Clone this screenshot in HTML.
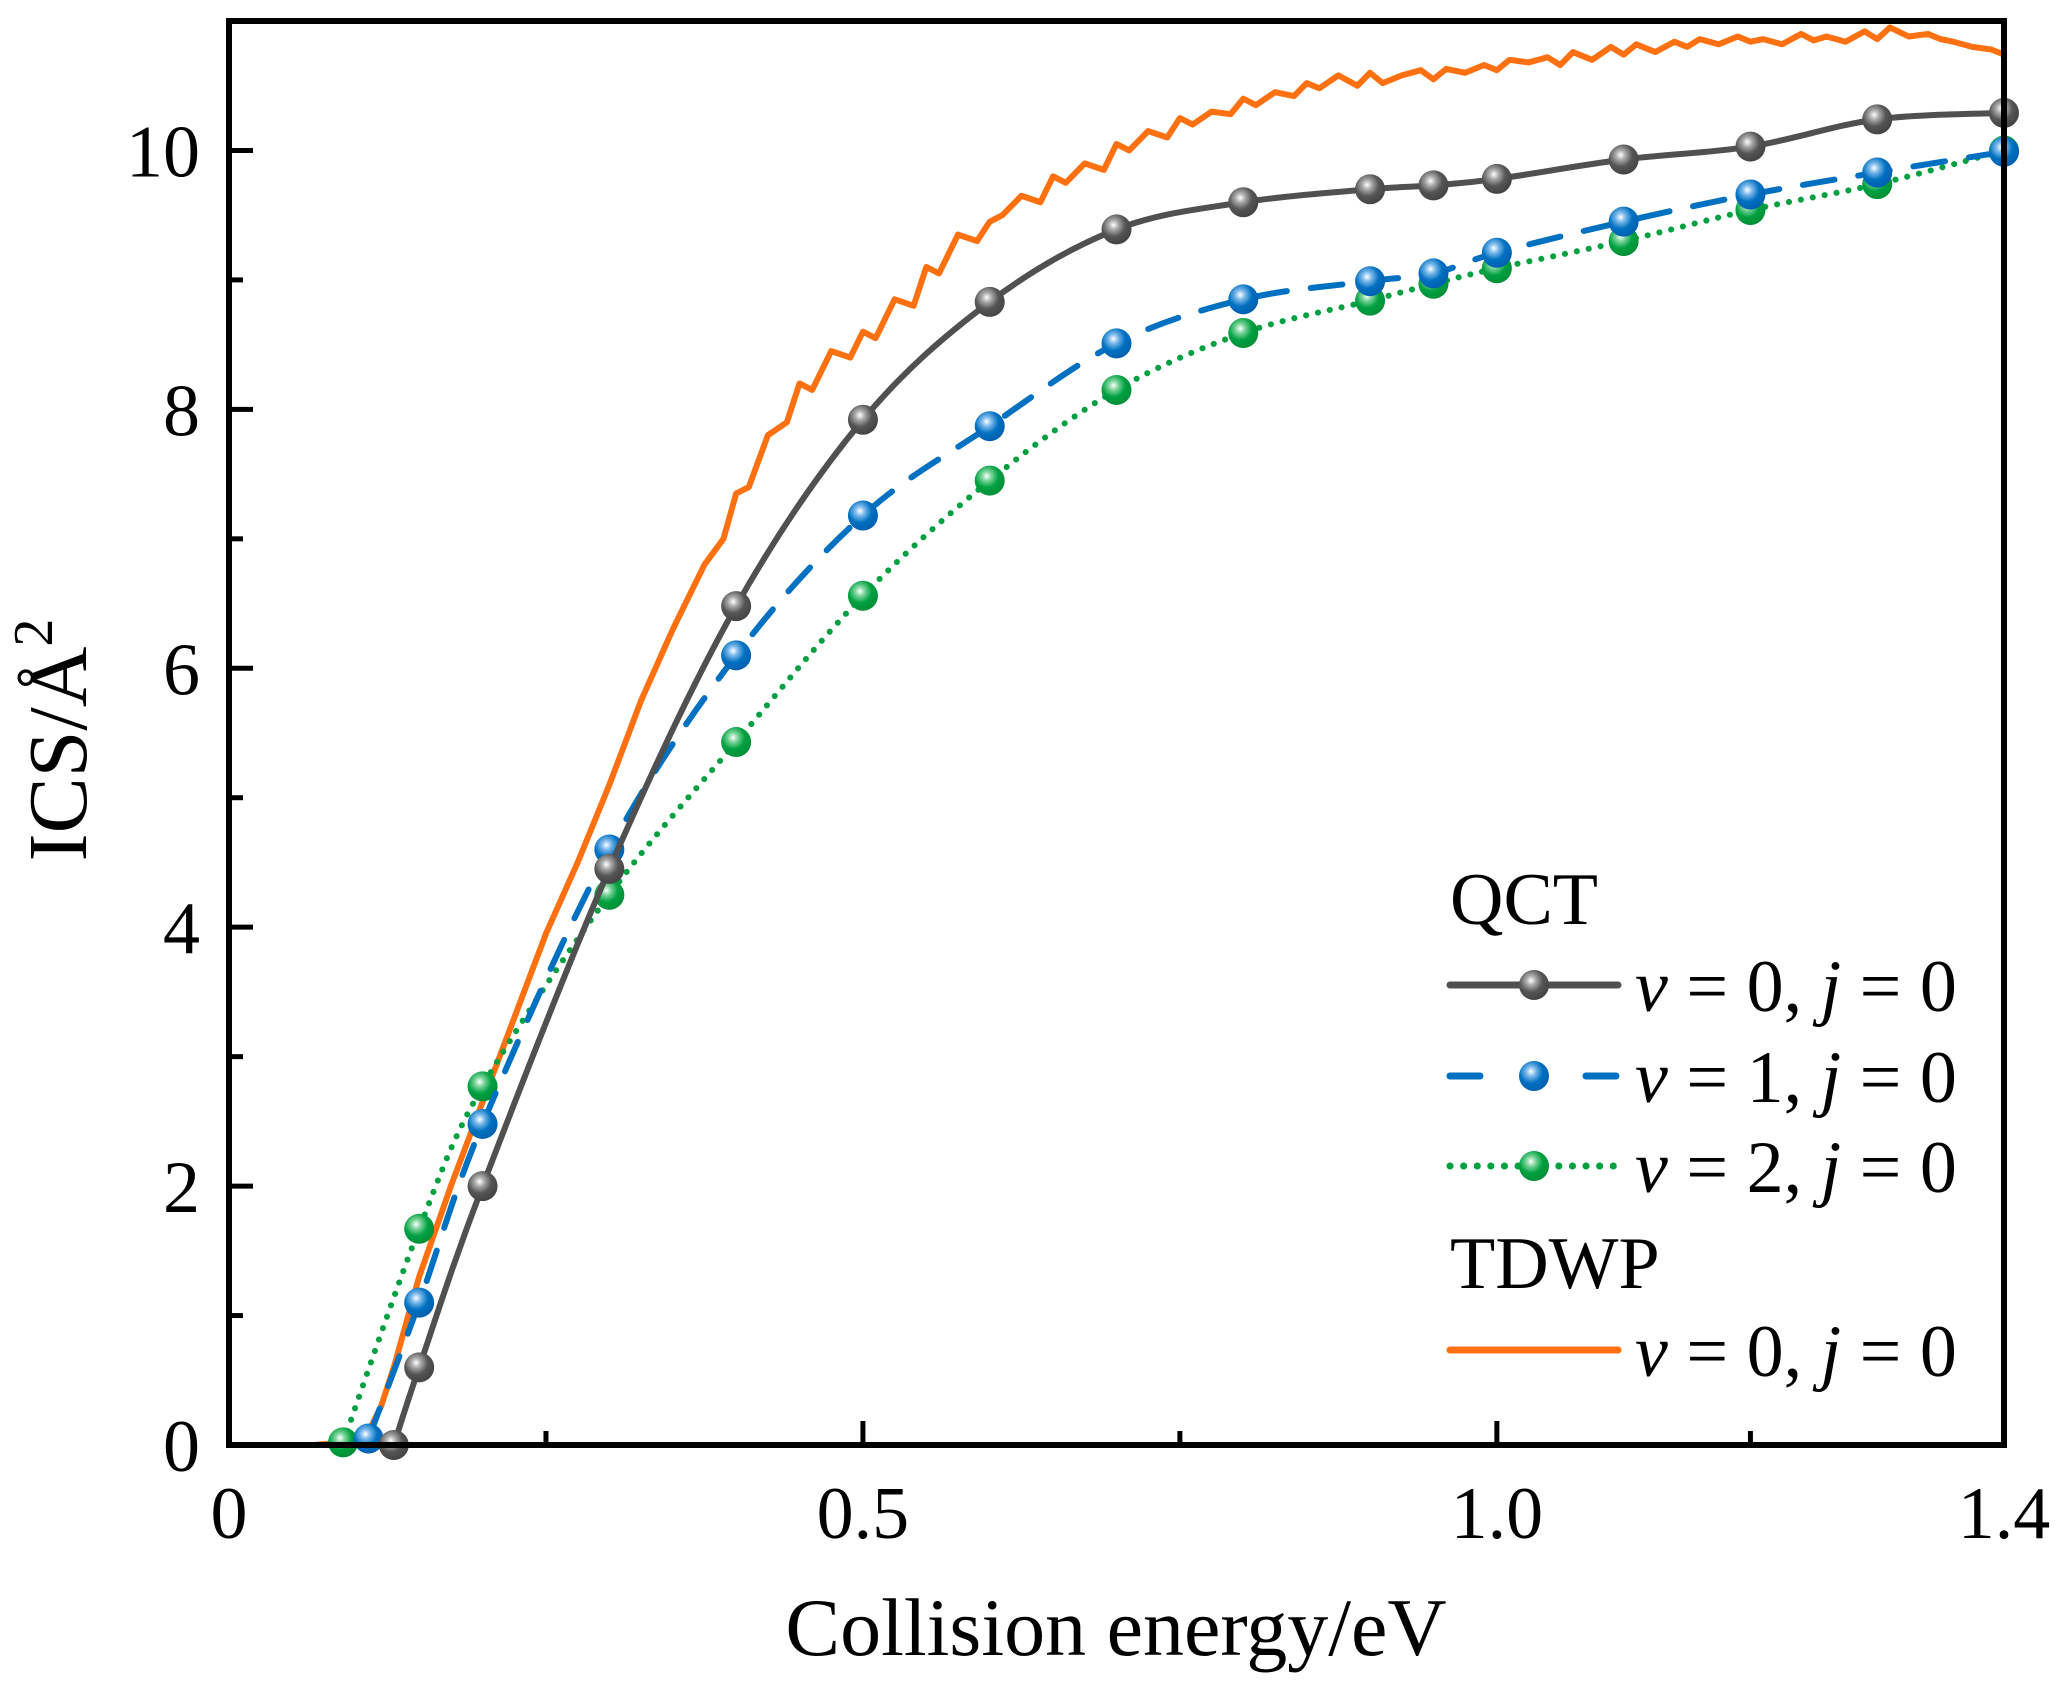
<!DOCTYPE html>
<html><head><meta charset="utf-8"><style>
html,body{margin:0;padding:0;background:#fff;}
svg{display:block;font-family:"Liberation Serif",serif;}
</style></head><body>
<svg id="chart" width="2067" height="1689" viewBox="0 0 2067 1689" xmlns="http://www.w3.org/2000/svg">
<defs>
<radialGradient id="gGray" cx="0.4" cy="0.35" r="0.65"><stop offset="0" stop-color="#fff"/><stop offset="0.25" stop-color="#aaa"/><stop offset="0.6" stop-color="#555"/><stop offset="1" stop-color="#444"/></radialGradient>
<radialGradient id="gBlue" cx="0.4" cy="0.35" r="0.65"><stop offset="0" stop-color="#fff"/><stop offset="0.25" stop-color="#7ab8ea"/><stop offset="0.6" stop-color="#0070c0"/><stop offset="1" stop-color="#0060b0"/></radialGradient>
<radialGradient id="gGreen" cx="0.4" cy="0.35" r="0.65"><stop offset="0" stop-color="#fff"/><stop offset="0.25" stop-color="#7ad49a"/><stop offset="0.6" stop-color="#00a040"/><stop offset="1" stop-color="#009038"/></radialGradient>
</defs>
<g id="plot"></g>
<g id="axes"></g>
</svg>
<script>
const xTickVals = [0, 0.5, 1.0, 1.4];
const xTickLabels = ["0", "0.5", "1.0", "1.4"];
const xMinorVals = [0.25, 0.75, 1.2];
const yTickVals = [0, 2, 4, 6, 8, 10];
const yTickLabels = ["0", "2", "4", "6", "8", "10"];
const yMinorVals = [1, 3, 5, 7, 9];

const grayX = [0.13, 0.15, 0.2, 0.3, 0.4, 0.5, 0.6, 0.7, 0.8, 0.9, 0.95, 1.0, 1.1, 1.2, 1.3, 1.4];
const grayY = [0, 0.6, 2.0, 4.45, 6.48, 7.92, 8.83, 9.39, 9.6, 9.7, 9.73, 9.78, 9.93, 10.03, 10.24, 10.29];
const blueX = [0.11, 0.15, 0.2, 0.3, 0.4, 0.5, 0.6, 0.7, 0.8, 0.9, 0.95, 1.0, 1.1, 1.2, 1.3, 1.4];
const blueY = [0.05, 1.1, 2.48, 4.6, 6.1, 7.18, 7.87, 8.51, 8.85, 8.99, 9.05, 9.21, 9.45, 9.66, 9.83, 9.99];
const greenX = [0.09, 0.15, 0.2, 0.3, 0.4, 0.5, 0.6, 0.7, 0.8, 0.9, 0.95, 1.0, 1.1, 1.2, 1.3, 1.4];
const greenY = [0.02, 1.67, 2.77, 4.25, 5.43, 6.56, 7.45, 8.15, 8.59, 8.84, 8.97, 9.09, 9.3, 9.54, 9.74, 10.0];
const tdwpX = [0.067,0.09,0.11,0.12,0.13,0.15,0.175,0.2,0.225,0.25,0.275,0.3,0.325,0.35,0.375,0.39,0.4,0.41,0.425,0.44,0.45,0.46,0.475,0.49,0.5,0.51,0.525,0.54,0.55,0.56,0.575,0.59,0.6,0.61,0.625,0.64,0.65,0.66,0.675,0.69,0.7,0.71,0.725,0.74,0.75,0.76,0.775,0.79,0.8,0.81,0.825,0.84,0.85,0.86,0.875,0.89,0.9,0.91,0.925,0.94,0.95,0.96,0.975,0.99,1.0,1.01,1.025,1.04,1.05,1.06,1.075,1.09,1.1,1.11,1.125,1.14,1.15,1.16,1.175,1.19,1.2,1.21,1.225,1.24,1.25,1.26,1.275,1.29,1.3,1.31,1.325,1.34,1.35,1.36,1.375,1.39,1.4];
const tdwpY = [0,0.02,0.1,0.3,0.6,1.3,2.0,2.65,3.3,3.95,4.5,5.1,5.75,6.3,6.8,7.0,7.35,7.4,7.8,7.9,8.2,8.15,8.45,8.4,8.6,8.55,8.85,8.8,9.1,9.05,9.35,9.3,9.45,9.5,9.65,9.6,9.8,9.75,9.9,9.85,10.05,10.0,10.15,10.1,10.25,10.2,10.3,10.28,10.4,10.35,10.45,10.42,10.52,10.48,10.58,10.5,10.6,10.52,10.58,10.62,10.55,10.63,10.6,10.66,10.62,10.7,10.68,10.72,10.66,10.76,10.7,10.8,10.74,10.82,10.76,10.84,10.8,10.86,10.82,10.88,10.84,10.86,10.82,10.9,10.85,10.88,10.84,10.92,10.86,10.95,10.88,10.9,10.86,10.84,10.8,10.78,10.74];

const X0 = 229, X1 = 2004, Y0 = 1445, Y1 = 21, XMAX = 1.4, YMAX = 11.0;
const sx = v => X0 + v / XMAX * (X1 - X0);
const sy = v => Y0 - v / YMAX * (Y0 - Y1);
const NS = "http://www.w3.org/2000/svg";
function mk(tag, attrs, parent) {
  const e = document.createElementNS(NS, tag);
  for (const k in attrs) e.setAttribute(k, attrs[k]);
  parent.appendChild(e);
  return e;
}
function spline(xs, ys) {
  const p = xs.map((x, i) => [sx(x), sy(ys[i])]);
  let d = "M" + p[0][0] + "," + p[0][1];
  for (let i = 0; i < p.length - 1; i++) {
    const a = p[i - 1] || p[i], b = p[i], c = p[i + 1], e = p[i + 2] || c;
    const c1 = [b[0] + (c[0] - a[0]) / 6, b[1] + (c[1] - a[1]) / 6];
    const c2 = [c[0] - (e[0] - b[0]) / 6, c[1] - (e[1] - b[1]) / 6];
    d += " C" + c1[0] + "," + c1[1] + " " + c2[0] + "," + c2[1] + " " + c[0] + "," + c[1];
  }
  return d;
}
const plot = document.getElementById("plot");
const axes = document.getElementById("axes");

const tp = mk("polyline", {points: tdwpX.map((x, i) => sx(x) + "," + sy(tdwpY[i])).join(" "), fill: "none", stroke: "#ff7010", "stroke-width": 6, "stroke-linejoin": "round"}, plot);



const series = [
  {name: "v2", xs: greenX, ys: greenY, color: "#00a040", dash: "0.1 12", grad: "url(#gGreen)", w: 6},
  {name: "v1", xs: blueX, ys: blueY, color: "#0070c0", dash: "32 24", grad: "url(#gBlue)", w: 6},
  {name: "v0", xs: grayX, ys: grayY, color: "#505050", dash: "none", grad: "url(#gGray)", w: 6}
];
series.forEach(s => {
  const ln = mk("path", {d: spline(s.xs, s.ys), fill: "none", stroke: s.color, "stroke-width": s.w, "stroke-dasharray": s.dash, "stroke-linecap": "round"}, plot);
  
  
  s.xs.forEach((x, i) => {
    const c = mk("circle", {cx: sx(x), cy: sy(s.ys[i]), r: 15, fill: s.grad}, plot);
    
    
  });
});

const fr = mk("rect", {x: X0, y: Y1, width: X1 - X0, height: Y0 - Y1, fill: "none", stroke: "#000", "stroke-width": 6}, axes);



xTickVals.forEach((v, i) => {
  const t = mk("line", {x1: sx(v), x2: sx(v), y1: Y0, y2: Y0 - 24, stroke: "#000", "stroke-width": 5}, axes);
  
  
  const l = mk("text", {x: sx(v), y: 1538, "font-size": 74, "text-anchor": "middle"}, axes);
  l.textContent = xTickLabels[i];
  
  
});
xMinorVals.forEach(v => {
  const t = mk("line", {x1: sx(v), x2: sx(v), y1: Y0, y2: Y0 - 14, stroke: "#000", "stroke-width": 5}, axes);
  
  
});
yTickVals.forEach((v, i) => {
  const t = mk("line", {x1: X0, x2: X0 + 24, y1: sy(v), y2: sy(v), stroke: "#000", "stroke-width": 5}, axes);
  
  
  const l = mk("text", {x: 200, y: sy(v) + 26, "font-size": 74, "text-anchor": "end"}, axes);
  l.textContent = yTickLabels[i];
  
  
});
yMinorVals.forEach(v => {
  const t = mk("line", {x1: X0, x2: X0 + 14, y1: sy(v), y2: sy(v), stroke: "#000", "stroke-width": 5}, axes);
  
  
});
</script>
<script>
(function(){
const svg = document.getElementById("chart");
const add = (html) => { svg.insertAdjacentHTML("beforeend", html); };
add('<text x="1116" y="1655" font-size="82" text-anchor="middle">Collision energy/eV</text>');
add('<text transform="translate(86,740) rotate(-90)" font-size="84" text-anchor="middle">ICS/Å<tspan dy="-34" font-size="56">2</tspan></text>');
add('<g font-size="74">' +
 '<text x="1450" y="924">QCT</text>' +
 '<g><line x1="1450" y1="985" x2="1618" y2="985" stroke="#505050" stroke-width="7" stroke-linecap="round"/><circle cx="1534" cy="985" r="15" fill="url(#gGray)"/><text x="1635" y="1011"><tspan font-style="italic">v</tspan> = 0, <tspan font-style="italic">j</tspan> = 0</text></g>' +
 '<g><line x1="1450" y1="1076" x2="1618" y2="1076" stroke="#0070c0" stroke-width="7" stroke-dasharray="30 106" stroke-linecap="round"/><circle cx="1534" cy="1076" r="15" fill="url(#gBlue)"/><text x="1635" y="1102"><tspan font-style="italic">v</tspan> = 1, <tspan font-style="italic">j</tspan> = 0</text></g>' +
 '<g><line x1="1450" y1="1166" x2="1618" y2="1166" stroke="#00a040" stroke-width="7" stroke-dasharray="0.1 13.5" stroke-linecap="round"/><circle cx="1534" cy="1166" r="15" fill="url(#gGreen)"/><text x="1635" y="1192"><tspan font-style="italic">v</tspan> = 2, <tspan font-style="italic">j</tspan> = 0</text></g>' +
 '<text x="1450" y="1288">TDWP</text>' +
 '<g><line x1="1450" y1="1350" x2="1618" y2="1350" stroke="#ff7010" stroke-width="7" stroke-linecap="round"/><text x="1635" y="1376"><tspan font-style="italic">v</tspan> = 0, <tspan font-style="italic">j</tspan> = 0</text></g>' +
 '</g>');
})();
</script>
</body></html>
